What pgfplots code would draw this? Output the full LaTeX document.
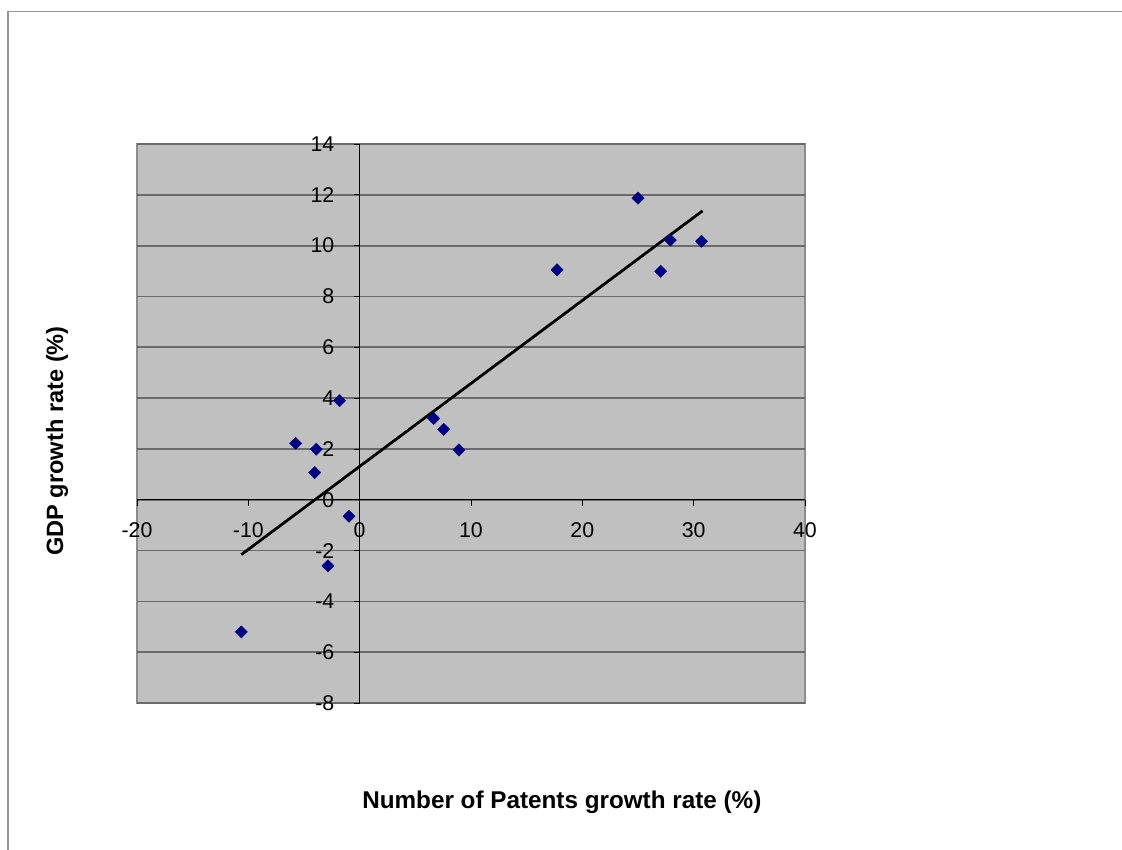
\documentclass[border=0pt]{standalone}
\usepackage{fontspec}
\setmainfont{Liberation Sans}
\usepackage{pgfplots}
\pgfplotsset{compat=1.18}
\definecolor{plotbg}{HTML}{C0C0C0}
\definecolor{gridc}{HTML}{6A6A6A}
\definecolor{navy}{HTML}{000080}
\begin{document}
\begin{tikzpicture}
\path[use as bounding box] (0pt,0pt) rectangle (841.5pt,-637.5pt);
\draw[color=gray!85, line width=1.1pt] (6pt,-637.5pt) -- (6pt,-8.6pt) -- (841.5pt,-8.6pt);
\begin{axis}[
  at={(102.75pt,-527.25pt)}, anchor=south west,
  scale only axis, width=501pt, height=419.25pt,
  xmin=-20, xmax=40, ymin=-8, ymax=14,
  axis lines=middle,
  axis line style={-, black, line width=0.8pt},
  axis background/.style={fill=plotbg, draw=gray!90, line width=0.8pt},
  xtick={-20,-10,0,10,20,30,40},
  ytick={-8,-6,-4,-2,0,2,4,6,8,10,12,14},
  hide obscured x ticks=false, hide obscured y ticks=false,
  tick align=outside, major tick length=4.5pt,
  tick style={black, line width=0.6pt},
  ymajorgrids, grid style={gridc, line width=1.3pt},
  /pgf/number format/assume math mode=true,
  ticklabel style={font=\fontsize{16}{19}\selectfont},
  xticklabel style={anchor=base, yshift=-24pt},
  yticklabel style={anchor=east, xshift=-11pt},
  xlabel={Number of Patents growth rate (\%)},
  ylabel={GDP growth rate (\%)},
  every axis x label/.style={at={(axis description cs:0.636,-0.177)}, anchor=center, font=\bfseries\fontsize{18.2}{21}\selectfont},
  every axis y label/.style={at={(axis description cs:-0.1198,0.4687)}, anchor=center, rotate=90, font=\bfseries\fontsize{17.7}{20}\selectfont},
  clip=false,
]
\addplot[only marks, mark=square*, mark size=3.2pt, mark options={rotate=45, fill=navy, draw=navy}] coordinates {
(-10.63,-5.2) (-2.85,-2.6) (-0.96,-0.65) (-4.04,1.07) (-3.9,1.99) (-5.75,2.22) (-1.8,3.9)
(6.65,3.2) (7.55,2.77) (8.92,1.96) (17.73,9.05) (25.0,11.87) (27.04,8.99) (27.9,10.22) (30.7,10.17)
};
\addplot[black, line width=2.1pt] coordinates {(-10.63,-2.16) (30.8,11.37)};
\end{axis}
\end{tikzpicture}
\end{document}
